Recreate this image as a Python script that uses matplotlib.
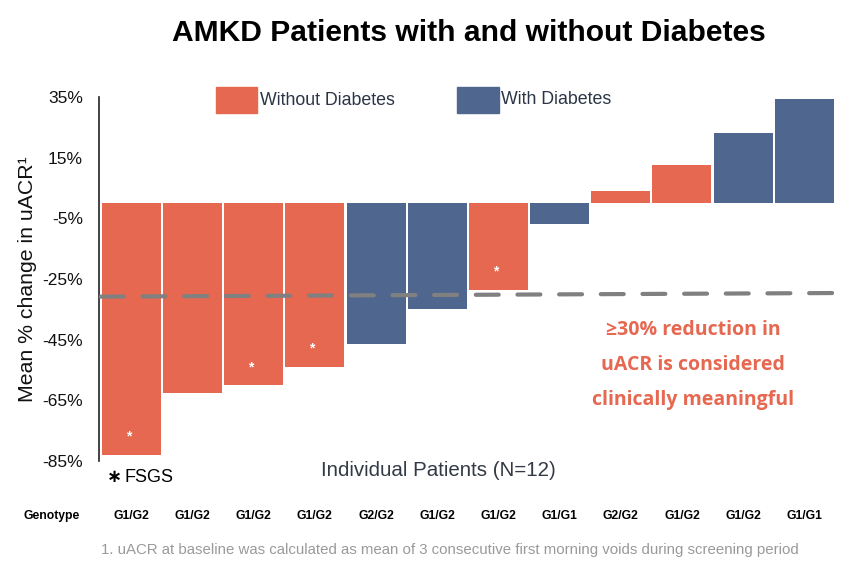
import matplotlib
matplotlib.use("Agg")
import matplotlib.pyplot as plt
from matplotlib.patches import Rectangle

# ---- data ----
patients = list(range(1, 13))
pct_change = [-83, -62.5, -60, -54, -46.5, -35, -28.5, -7, 4, 12.5, 23, 34.5]
diabetes = [False, False, False, False, True, True, False, True, False, False, True, True]
fsgs = [True, False, True, True, False, False, True, False, False, False, False, False]
genotypes = ["G1/G2", "G1/G2", "G1/G2", "G1/G2", "G2/G2", "G1/G2",
             "G1/G2", "G1/G1", "G2/G2", "G1/G2", "G1/G2", "G1/G1"]
ytick_vals = [35, 15, -5, -25, -45, -65, -85]
ytick_labels = ["35%", "15%", "-5%", "-25%", "-45%", "-65%", "-85%"]
threshold_line = [-30.8, -29.6]  # dashed line left / right ends

ORANGE = "#E66851"
BLUE = "#4F668F"
FONT = "Liberation Sans"

plt.rcParams['font.family'] = [FONT, 'DejaVu Sans']

fig = plt.figure(figsize=(8.48, 5.66), dpi=100)
ax = fig.add_axes([0.1167, 0.1855, 0.8693, 0.643])

x = list(range(len(pct_change)))
colors = [BLUE if d else ORANGE for d in diabetes]
ax.bar(x, pct_change, width=0.965, color=colors, linewidth=0)

# FSGS asterisks
for xi, v, f in zip(x, pct_change, fsgs):
    if f:
        ax.text(xi - 0.05, v + 6, "*", color="white", ha="center", va="center",
                fontsize=10, fontweight="bold")

# threshold dashed line
ax.plot([-0.5, 11.6], threshold_line, color="#808080", lw=3,
        dashes=(5.5, 4.5), solid_capstyle="round", dash_capstyle="round",
        clip_on=False, zorder=3)

ax.set_xlim(-0.53, 11.52)
ax.set_ylim(-85, 35)
ax.set_yticks(ytick_vals)
ax.set_yticklabels(ytick_labels, fontsize=12.5, color="#111111")
ax.tick_params(axis="y", length=0, pad=11.5)
ax.set_xticks([])
for s in ["top", "right", "bottom"]:
    ax.spines[s].set_visible(False)
ax.spines["left"].set_color("#222222")
ax.spines["left"].set_linewidth(1.2)

ax.set_ylabel("Mean % change in uACR\u00b9", fontsize=15.3, color="#111111", labelpad=0)
ax_w_px = 0.8693 * 848
ax.yaxis.set_label_coords(-(99 - 28) / ax_w_px, 0.5)
ax.yaxis.label.set_horizontalalignment("center")
ax.yaxis.label.set_verticalalignment("center")

# title
fig.text(0.553, 0.942, "AMKD Patients with and without Diabetes", ha="center",
         va="center", fontsize=21.6, fontweight="bold", color="black")

# legend
fig.patches.append(Rectangle((216/848, 1-113/566), 41/848, 26/566,
                             transform=fig.transFigure, color=ORANGE))
fig.text(260/848, 1-101/566, "Without Diabetes", fontsize=12.8, va="center",
         color="#2b3545")
fig.patches.append(Rectangle((457/848, 1-113/566), 42/848, 26/566,
                             transform=fig.transFigure, color=BLUE))
fig.text(501/848, 1-100/566, "With Diabetes", fontsize=12.8, va="center",
         color="#2b3545")

# annotation
fig.text(693/848, 1-365/566,
         "\u226530% reduction in\nuACR is considered\nclinically meaningful",
         ha="center", va="center", fontsize=14, fontweight="bold",
         color=ORANGE, family=["Open Sans", "DejaVu Sans"], linespacing=1.97)

# x label
fig.text(438/848, 1-470/566, "Individual Patients (N=12)", ha="center",
         va="center", fontsize=14.8, color="#333a45")

# FSGS note
fig.text(107/848, 1-477/566, "\u2217", ha="left", va="center", fontsize=13,
         fontweight="bold", color="black", family=["DejaVu Sans"])
fig.text(124/848, 1-478/566, "FSGS", ha="left", va="center", fontsize=13,
         color="black")

# genotype row
fig.text(52/848, 1-516/566, "Genotype", ha="center", va="center", fontsize=8.7,
         fontweight="bold", color="black")
for xi, g in zip(x, genotypes):
    xd = ax.transData.transform((xi, 0))[0]
    xf = fig.transFigure.inverted().transform((xd, 0))[0]
    fig.text(xf, 1-516/566, g, ha="center", va="center", fontsize=8.7,
             fontweight="bold", color="black")

# footnote
fig.text(450/848, 1-550/566,
         "1. uACR at baseline was calculated as mean of 3 consecutive first morning voids during screening period",
         ha="center", va="center", fontsize=10.8, color="#9a9a9a")

fig.savefig("out.png", dpi=100)
